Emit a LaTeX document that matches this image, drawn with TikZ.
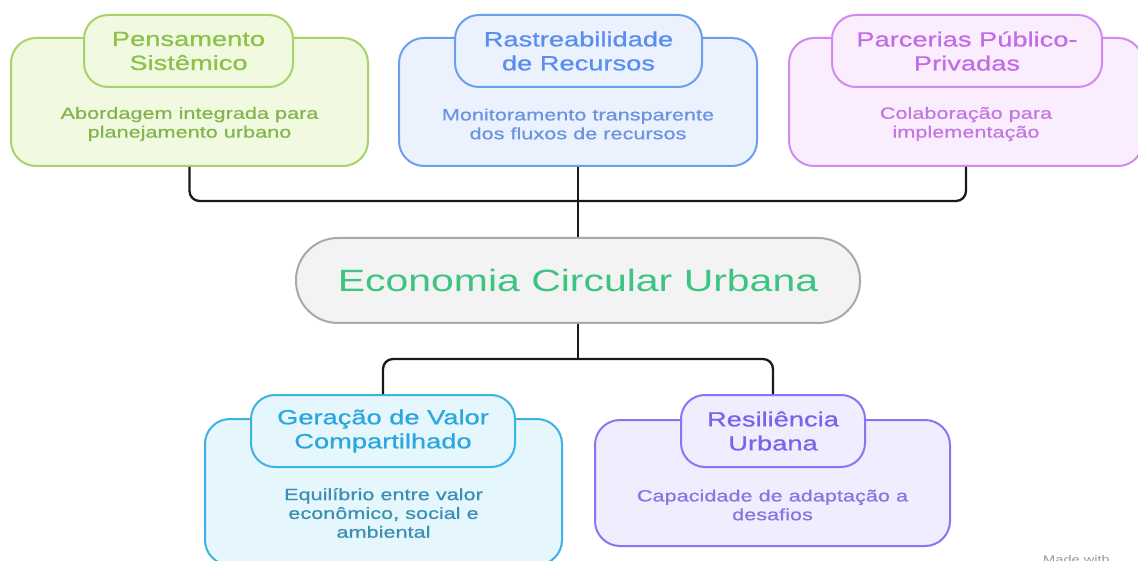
\documentclass[tikz,border=0pt]{standalone}
\usepackage{fontspec}
\setmainfont{Liberation Sans}[FakeStretch=1.33]
\newfontfamily\medfont{Liberation Sans}[FakeStretch=1.33, FakeBold=0.8]
\definecolor{grnFill}{HTML}{F1F9E0}
\definecolor{grnLine}{HTML}{A8D36A}
\definecolor{grnText}{HTML}{8CC24A}
\definecolor{grnDesc}{HTML}{82B54C}
\definecolor{bluFill}{HTML}{EBF2FE}
\definecolor{bluLine}{HTML}{6B9EEF}
\definecolor{bluText}{HTML}{5A8EEE}
\definecolor{bluDesc}{HTML}{6A93E0}
\definecolor{pnkFill}{HTML}{FAEEFE}
\definecolor{pnkLine}{HTML}{D28AF0}
\definecolor{pnkText}{HTML}{C26DE6}
\definecolor{pnkDesc}{HTML}{C278E0}
\definecolor{hubFill}{HTML}{F3F3F3}
\definecolor{hubLine}{HTML}{A9A9A9}
\definecolor{hubText}{HTML}{3CC480}
\definecolor{cyaFill}{HTML}{E6F6FD}
\definecolor{cyaLine}{HTML}{3DB2E3}
\definecolor{cyaText}{HTML}{2BA7DD}
\definecolor{cyaDesc}{HTML}{3B8FB3}
\definecolor{lavFill}{HTML}{F0EEFE}
\definecolor{lavLine}{HTML}{8F72F2}
\definecolor{lavText}{HTML}{7E62EA}
\definecolor{lavDesc}{HTML}{8A73E2}
\tikzset{
  bigbox/.style={rectangle, rounded corners=25pt, line width=2pt, inner sep=0pt},
  titlebox/.style={rectangle, rounded corners=24pt, line width=2pt, inner sep=0pt, minimum height=72pt, align=center, font=\medfont\fontsize{20.5}{24}\selectfont},
  desctext/.style={align=center, inner sep=0pt, font=\medfont\fontsize{16.3}{18.8}\selectfont},
  gstyle/.style={draw=grnLine, fill=grnFill},
  bstyle/.style={draw=bluLine, fill=bluFill},
  pstyle/.style={draw=pnkLine, fill=pnkFill},
  cstyle/.style={draw=cyaLine, fill=cyaFill},
  lstyle/.style={draw=lavLine, fill=lavFill},
  hubbox/.style={rectangle, rounded corners=42pt, line width=2pt, draw=hubLine, fill=hubFill, text=hubText, font=\fontsize{30.8}{34}\selectfont, inner sep=0pt},
  conn/.style={draw=black!90, line width=2.3pt, rounded corners=10pt},
  wmark/.style={text=black!40, font=\fontsize{11}{13}\selectfont, inner sep=0pt}
}
\begin{document}
\begin{tikzpicture}[x=1pt,y=-1pt]
\useasboundingbox (0,0) rectangle (1138,561);
\clip (0,0) rectangle (1138,561);
\fill[white] (0,0) rectangle (1138,561);

% connector junctions
\coordinate (jt) at (578,201);
\coordinate (jb) at (578,359);

% top boxes
\node[bigbox, gstyle, minimum width=357pt, minimum height=128pt] (A) at (189.5,102) {};
\node[titlebox, gstyle, minimum width=209pt, text=grnText] (At) at (188.5,51) {Pensamento\\Sistêmico};
\node[desctext, text=grnDesc] (Ad) at (189.5,124) {Abordagem integrada para\\planejamento urbano};

\node[bigbox, bstyle, minimum width=358pt, minimum height=128pt] (B) at (578,102) {};
\node[titlebox, bstyle, minimum width=247pt, text=bluText] (Bt) at (578.5,51) {Rastreabilidade\\de Recursos};
\node[desctext, text=bluDesc] (Bd) at (578,124) {Monitoramento transparente\\dos fluxos de recursos};

\node[bigbox, pstyle, minimum width=354pt, minimum height=128pt] (C) at (966,102) {};
\node[titlebox, pstyle, minimum width=270pt, text=pnkText] (Ct) at (967,51) {Parcerias Público-\\Privadas};
\node[desctext, text=pnkDesc] (Cd) at (966,124) {Colaboração para\\implementação};

% hub
\node[hubbox, minimum width=564pt, minimum height=85pt] (hub) at (578,280.5) {Economia Circular Urbana};

% bottom boxes
\node[bigbox, cstyle, minimum width=357pt, minimum height=146pt] (D) at (383.5,492) {};
\node[titlebox, cstyle, minimum width=264pt, text=cyaText] (Dt) at (383,431) {Geração de Valor\\Compartilhado};
\node[desctext, text=cyaDesc] (Dd) at (383.5,513) {Equilíbrio entre valor\\econômico, social e\\ambiental};

\node[bigbox, lstyle, minimum width=355pt, minimum height=126pt] (E) at (772.5,483) {};
\node[titlebox, lstyle, minimum width=184pt, text=lavText] (Et) at (773,431) {Resiliência\\Urbana};
\node[desctext, text=lavDesc] (Ed) at (772.5,505) {Capacidade de adaptação a\\desafios};

% connector lines
\draw[conn] (A.south) |- (jt);
\draw[conn] (C.south) |- (jt);
\draw[conn] (B.south) -- (hub.north);
\draw[conn] (hub.south) -- (jb);
\draw[conn] (jb) -| (Dt.north);
\draw[conn] (jb) -| (Et.north);

% watermark (cut off at the bottom edge, as in the reference)
\node[wmark, anchor=north west] (wm) at (1043,555) {Made with};
\end{tikzpicture}
\end{document}
